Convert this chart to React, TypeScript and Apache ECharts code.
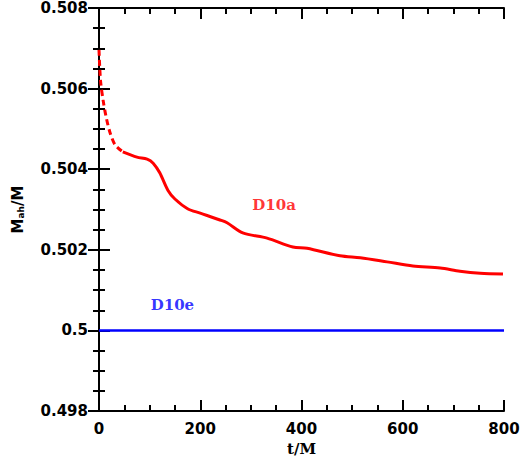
import React, { useEffect, useRef } from "react";
import * as echarts from "echarts";

// Apparent horizon mass of run D10a (early part sampled sparsely)
const d10aEarly: [number, number][] = [
  [0, 0.50696], [3, 0.5062], [8, 0.50572], [14, 0.5053], [22, 0.5049],
  [32, 0.5046], [47, 0.50443],
];
const d10aLate: [number, number][] = [
  [47, 0.50443], [75, 0.5043], [95, 0.50425], [107, 0.50415], [120, 0.50391],
  [136, 0.50348], [150, 0.50326], [175, 0.50302], [200, 0.50291], [239, 0.50274],
  [253, 0.50267], [284, 0.50242], [332, 0.50229], [383, 0.50207], [411, 0.50204],
  [476, 0.50185], [516, 0.5018], [569, 0.5017], [620, 0.5016], [674, 0.50155],
  [713, 0.50147], [753, 0.50142], [798, 0.5014],
];
// Run D10e stays at the initial value
const d10e: [number, number][] = [[0, 0.5], [800, 0.5]];

const xTicks = { min: 0, max: 800, interval: 200 };
const yTicks = { min: 0.498, max: 0.508, interval: 0.002 };

const runLabels = [
  { name: "D10a", at: [346, 0.50311], color: "#ff0000" },
  { name: "D10e", at: [145, 0.50063], color: "#0000ff" },
];

const tickFont = { fontFamily: "DejaVu Sans", fontWeight: "bold" as const, fontSize: 15, color: "#000" };

export default function App() {
  const ref = useRef<HTMLDivElement>(null);
  useEffect(() => {
    if (!ref.current) return;
    const chart = echarts.init(ref.current, null, { renderer: "svg" });
    const axisLine = { show: true, lineStyle: { color: "#000", width: 2 } };
    const axisTick = { show: true, inside: true, length: 11, lineStyle: { color: "#000", width: 2 } };
    const minorTick = { show: true, splitNumber: 4, length: 6, lineStyle: { color: "#000", width: 2 } };
    chart.setOption({
      animation: false,
      backgroundColor: "#fff",
      grid: { left: 99, right: 20, top: 8, bottom: 54 },
      xAxis: [
        {
          type: "value", ...xTicks, position: "bottom",
          axisLine, axisTick, minorTick, splitLine: { show: false },
          axisLabel: { ...tickFont, margin: 10 },
          name: "t/M", nameLocation: "middle", nameGap: 30,
          nameTextStyle: { fontFamily: "DejaVu Serif", fontWeight: "bold", fontSize: 15, color: "#000" },
        },
        {
          type: "value", ...xTicks, position: "top",
          axisLine, axisTick, minorTick, splitLine: { show: false },
          axisLabel: { show: false },
        },
      ],
      yAxis: [
        {
          type: "value", ...yTicks, position: "left",
          axisLine, axisTick, minorTick, splitLine: { show: false },
          axisLabel: {
            ...tickFont, margin: 11,
            formatter: (v: number) => String(parseFloat(v.toFixed(3))),
          },
          name: "{m|M}{s|ah}{m|/M}", nameLocation: "middle", nameGap: 74, nameRotate: 90,
          nameTextStyle: {
            rich: {
              m: { fontFamily: "DejaVu Sans", fontWeight: "bold", fontSize: 15, color: "#000" },
              s: { fontFamily: "DejaVu Sans", fontWeight: "bold", fontSize: 9, color: "#000", verticalAlign: "bottom", padding: [6, 0, 0, 0] },
            },
          },
        },
        {
          type: "value", ...yTicks, position: "right",
          axisLine, axisTick, minorTick, splitLine: { show: false },
          axisLabel: { show: false },
        },
      ],
      series: [
        {
          type: "line", data: d10aEarly, smooth: 0.3, symbol: "none",
          lineStyle: { color: "#ff0000", width: 3, type: [6, 4] },
        },
        {
          type: "line", data: d10aLate, smooth: 0.3, symbol: "none",
          lineStyle: { color: "#ff0000", width: 3 },
        },
        {
          type: "line", data: d10e, symbol: "none",
          lineStyle: { color: "#0000ff", width: 2.5 },
        },
        ...runLabels.map((r) => ({
          type: "scatter",
          data: [r.at],
          symbolSize: 0,
          label: {
            show: true, position: "inside", formatter: r.name,
            fontFamily: "DejaVu Serif", fontWeight: "bold", fontSize: 15, color: r.color,
          },
        })),
      ],
    });
    return () => chart.dispose();
  }, []);
  return <div ref={ref} style={{ width: 524, height: 465, position: "absolute", left: 0, top: 0 }} />;
}
